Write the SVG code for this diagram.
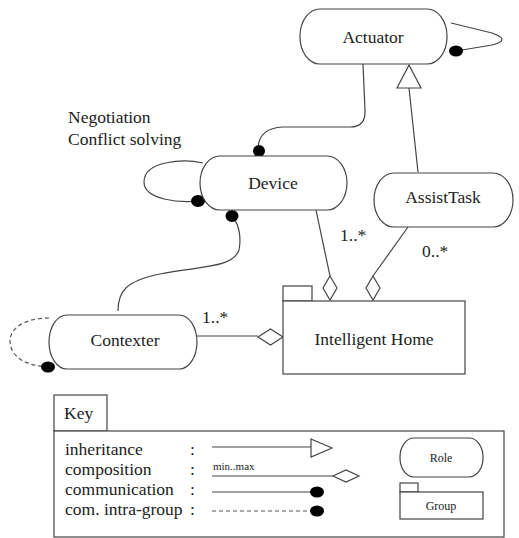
<svg xmlns="http://www.w3.org/2000/svg" width="519" height="538" viewBox="0 0 519 538">
<style>
.s{fill:#fff;stroke:#444;stroke-width:1.2}
.l{fill:none;stroke:#444;stroke-width:1.2}
.d{fill:none;stroke:#555;stroke-width:1.2;stroke-dasharray:4,3}
text{font-family:"Liberation Serif","Times New Roman",serif;fill:#222}
.t{font-size:17.5px}
.c{text-anchor:middle}
.dot{fill:#000}
.sm{font-size:11px}
.sr{font-size:12px}
</style>
<rect width="519" height="538" fill="#fff"/>
<g id="connectors">
<path class="l" d="M451,23 L492,33 Q512,40 492,45 L456,51"/>
<ellipse class="dot" cx="456" cy="51" rx="7" ry="5.5"/>
<path class="l" d="M363,64 L365,110 Q366,127 350,127 L283,127 Q259,128 258,148"/>
<ellipse class="dot" cx="259" cy="151" rx="6" ry="6"/>
<path class="l" d="M203,163 C185,159 144,160 144,182 C144,200 180,203 198,201"/>
<ellipse class="dot" cx="198" cy="201" rx="7" ry="6"/>
<path class="l" d="M233,218 C240,225 241,240 239,250 C233,268 200,266 160,274 C125,281 118,292 118,311"/>
<ellipse class="dot" cx="232" cy="216" rx="6.5" ry="6"/>
<path class="l" d="M418,172 L409,88"/>
<polygon class="s" points="409,65 397,88 421,88"/>
<path class="l" d="M316,210 L330,276"/>
<polygon class="s" points="330,276 337,288 330,300 323,288"/>
<path class="l" d="M408,227 L373,276"/>
<polygon class="s" points="373,276 380,288 373,300 366,288"/>
<path class="l" d="M197,336 L258,336"/>
<polygon class="s" points="258,337 270.5,329 283,337 270.5,345"/>
<path class="d" d="M49,318 C25,318 10,328 10,341 C10,356 25,366 48,367"/>
<ellipse class="dot" cx="48" cy="367" rx="7" ry="5.5"/>
<text class="t" x="340" y="241">1..*</text>
<text class="t" x="422" y="257">0..*</text>
<text class="t" x="202" y="323">1..*</text>
<text class="t" x="68" y="123">Negotiation</text>
<text class="t" x="68" y="145">Conflict solving</text>
</g>
<g id="actuator">
<rect class="s" x="300" y="9" width="147" height="55" rx="20" ry="27"/>
<text class="t c" x="373" y="43">Actuator</text>
</g>
<g id="device">
<rect class="s" x="200" y="156" width="147" height="54" rx="20" ry="27"/>
<text class="t c" x="273" y="189">Device</text>
</g>
<g id="assisttask">
<rect class="s" x="374" y="173" width="139" height="54" rx="20" ry="27"/>
<text class="t c" x="443" y="203">AssistTask</text>
</g>
<g id="contexter">
<rect class="s" x="49" y="315" width="148" height="54" rx="18" ry="27"/>
<text class="t c" x="125" y="346">Contexter</text>
</g>
<g id="intelligent-home">
<rect class="s" x="283" y="286" width="29" height="15"/>
<rect class="s" x="283" y="301" width="182" height="73"/>
<text class="t c" x="374" y="345">Intelligent Home</text>
</g>
<g id="key">
<rect class="s" x="54" y="395" width="53" height="36"/>
<text class="t" x="64" y="419">Key</text>
<rect class="s" x="54" y="431" width="450" height="106"/>
<text class="t" x="65" y="455">inheritance</text>
<text class="t" x="65" y="475">composition</text>
<text class="t" x="65" y="495">communication</text>
<text class="t" x="65" y="515">com. intra-group</text>
<text class="t" x="190" y="455">:</text>
<text class="t" x="190" y="475">:</text>
<text class="t" x="190" y="495">:</text>
<text class="t" x="190" y="515">:</text>
<path class="l" d="M212,447 L311,447"/>
<polygon class="s" points="311,439 332,448 311,457"/>
<text class="sm" x="213" y="470">min..max</text>
<path class="l" d="M212,476 L333,476"/>
<polygon class="s" points="333,476 346,470 359,476 346,482"/>
<path class="l" d="M212,492 L311,492"/>
<ellipse class="dot" cx="317" cy="492" rx="7" ry="5.5"/>
<path class="d" d="M212,511 L311,511"/>
<ellipse class="dot" cx="317" cy="511" rx="7" ry="5.5"/>
<rect class="s" x="400" y="438" width="83" height="39" rx="14" ry="19"/>
<text class="sr c" x="441" y="462">Role</text>
<rect class="s" x="400" y="483" width="18" height="9"/>
<rect class="s" x="400" y="492" width="83" height="27"/>
<text class="sr c" x="441" y="510">Group</text>
</g>
</svg>
